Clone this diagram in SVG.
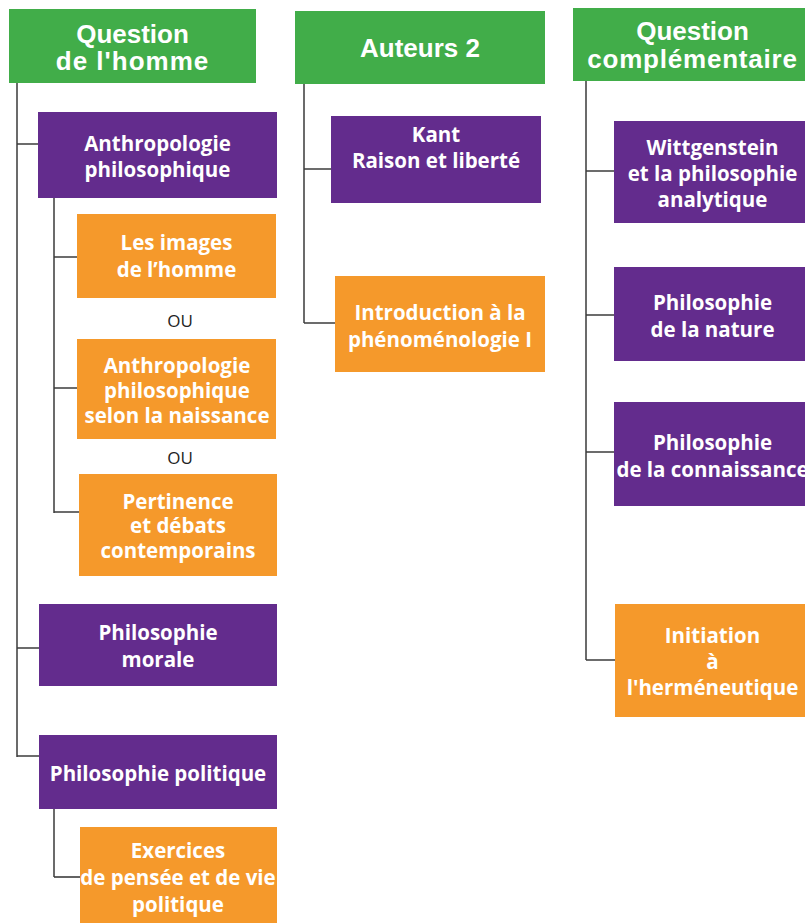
<svg xmlns="http://www.w3.org/2000/svg" width="805" height="923" viewBox="0 0 805 923">
<style>
.hdr{fill:#41ad49}
.pur{fill:#632c8d}
.org{fill:#f5992b}
.ht{font-family:"Liberation Sans",Arial,sans-serif;font-weight:bold;font-size:26px;fill:#fff;text-anchor:middle}
.nt{font-family:"Open Sans","Liberation Sans",sans-serif;font-weight:700;font-size:20.5px;fill:#fff;text-anchor:middle}
.ou{font-family:"Open Sans","Liberation Sans",sans-serif;font-size:17px;fill:#222;text-anchor:middle}
.v{stroke:#6b6b6b;stroke-width:2;fill:none}
.h{stroke:#3c3c3c;stroke-width:1.6;fill:none}
</style>
<rect width="805" height="923" fill="#fff"/>
<g id="connectors">
<path class="v" d="M17 83V757"/>
<path class="h" d="M17 144H38M17 648H39M17 756H39"/>
<path class="v" d="M54 198V513"/>
<path class="h" d="M54 257H77M54 388H77M54 512H79"/>
<path class="v" d="M54 809V877"/>
<path class="h" d="M54 877H80"/>
<path class="v" d="M304 84V323"/>
<path class="h" d="M304 169H331M304 323H335"/>
<path class="v" d="M586 81V660"/>
<path class="h" d="M586 171H614M586 315H614M586 452H614M586 660H615"/>
</g>
<g id="h1"><rect class="hdr" x="9" y="9" width="247" height="74"/><text class="ht" x="132.5" y="43">Question</text><text class="ht" x="132.5" y="70" letter-spacing="1">de l'homme</text></g>
<g id="h2"><rect class="hdr" x="295" y="11" width="250" height="73"/><text class="ht" x="420" y="57">Auteurs 2</text></g>
<g id="h3"><rect class="hdr" x="573" y="8" width="240" height="73"/><text class="ht" x="692.5" y="40">Question</text><text class="ht" x="692.5" y="68" letter-spacing="0.8">complémentaire</text></g>
<g id="n-anthro"><rect class="pur" x="38" y="112" width="239" height="86"/><text class="nt" x="157.5" y="151">Anthropologie</text><text class="nt" x="157.5" y="177">philosophique</text></g>
<g id="n-images"><rect class="org" x="77" y="214" width="199" height="84"/><text class="nt" x="176.5" y="250">Les images</text><text class="nt" x="176.5" y="277">de l’homme</text></g>
<g id="ou1"><text class="ou" x="180" y="327">OU</text></g>
<g id="n-naissance"><rect class="org" x="77" y="339" width="199" height="100"/><text class="nt" x="177" y="373">Anthropologie</text><text class="nt" x="177" y="398">philosophique</text><text class="nt" x="177" y="423">selon la naissance</text></g>
<g id="ou2"><text class="ou" x="180" y="464">OU</text></g>
<g id="n-pertinence"><rect class="org" x="79" y="474" width="198" height="102"/><text class="nt" x="178" y="509">Pertinence</text><text class="nt" x="178" y="533">et débats</text><text class="nt" x="178" y="558">contemporains</text></g>
<g id="n-morale"><rect class="pur" x="39" y="604" width="238" height="82"/><text class="nt" x="158" y="640">Philosophie</text><text class="nt" x="158" y="667">morale</text></g>
<g id="n-politique"><rect class="pur" x="39" y="735" width="238" height="74"/><text class="nt" x="158" y="781">Philosophie politique</text></g>
<g id="n-exercices"><rect class="org" x="80" y="827" width="197" height="100"/><text class="nt" x="178" y="858">Exercices</text><text class="nt" x="178" y="885">de pensée et de vie</text><text class="nt" x="178" y="912">politique</text></g>
<g id="n-kant"><rect class="pur" x="331" y="116" width="210" height="87"/><text class="nt" x="436" y="142">Kant</text><text class="nt" x="436" y="168">Raison et liberté</text></g>
<g id="n-intro"><rect class="org" x="335" y="276" width="210" height="96"/><text class="nt" x="440" y="320">Introduction à la</text><text class="nt" x="440" y="347">phénoménologie I</text></g>
<g id="n-witt"><rect class="pur" x="614" y="121" width="200" height="102"/><text class="nt" x="712.5" y="155">Wittgenstein</text><text class="nt" x="712.5" y="181">et la philosophie</text><text class="nt" x="712.5" y="207">analytique</text></g>
<g id="n-nature"><rect class="pur" x="614" y="267" width="200" height="94"/><text class="nt" x="712.5" y="310">Philosophie</text><text class="nt" x="712.5" y="337">de la nature</text></g>
<g id="n-connaissance"><rect class="pur" x="614" y="402" width="200" height="104"/><text class="nt" x="712.5" y="450">Philosophie</text><text class="nt" x="712.5" y="477">de la connaissance</text></g>
<g id="n-herm"><rect class="org" x="615" y="604" width="200" height="113"/><text class="nt" x="712.5" y="643">Initiation</text><text class="nt" x="712.5" y="669">à</text><text class="nt" x="712.5" y="695">l'herméneutique</text></g>
</svg>
